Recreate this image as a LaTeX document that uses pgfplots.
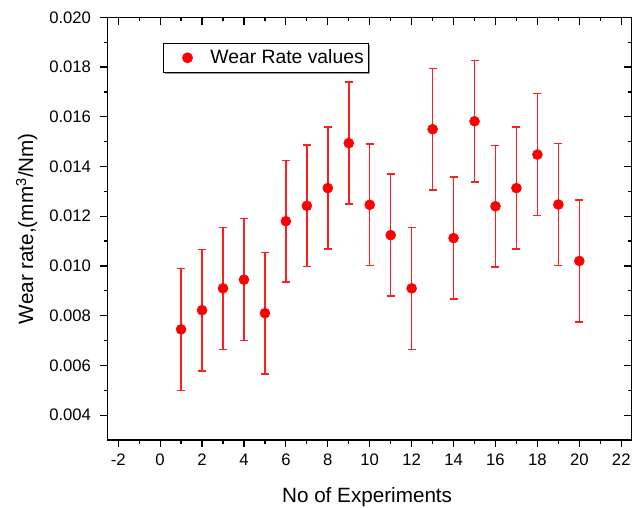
\documentclass[border=0pt]{standalone}
\usepackage{fontspec}
\setmainfont{Liberation Sans}
\usepackage{pgfplots}
\pgfplotsset{compat=1.18}
\usetikzlibrary{shadows}
\definecolor{barred}{RGB}{255,30,30}
\pgfplotstableread{
x y e
1 0.00745 0.00245
2 0.00822 0.00245
3 0.00910 0.00245
4 0.00945 0.00245
5 0.00810 0.00245
6 0.01180 0.00245
7 0.01242 0.00245
8 0.01313 0.00245
9 0.01494 0.00245
10 0.01246 0.00245
11 0.01124 0.00245
12 0.00910 0.00245
13 0.01550 0.00245
14 0.01112 0.00245
15 0.01582 0.00245
16 0.01240 0.00245
17 0.01313 0.00245
18 0.01448 0.00245
19 0.01247 0.00245
20 0.01020 0.00245
}\wear
\begin{document}
\begin{tikzpicture}
\useasboundingbox (-80.8pt,-50.25pt) rectangle (400.7pt,330pt);
\pgfplotsset{
  common/.style={
    at={(0pt,0pt)}, anchor=south west,
    scale only axis, width=393pt, height=317pt,
    xmin=-2.5, xmax=22.5, ymin=0.003, ymax=0.020,
    xtick={-2,0,2,4,6,8,10,12,14,16,18,20,22},
    ytick={0.004,0.006,0.008,0.010,0.012,0.014,0.016,0.018,0.020},
    minor x tick num=1, minor y tick num=1,
    major tick length=5.5pt, minor tick length=3pt,
    axis line style={black, line width=0.9pt},
    tick style={black, line width=0.9pt},
    scaled y ticks=false,
  }
}
\begin{axis}[
  common,
  xtick pos=left, ytick pos=left, tick align=outside,
  /pgf/number format/assume math mode=true,
  yticklabel style={/pgf/number format/.cd, fixed, fixed zerofill, precision=3, /tikz/.cd, font=\fontsize{12.5}{15}\selectfont, xshift=-3.5pt},
  xticklabel style={font=\fontsize{12.5}{15}\selectfont, yshift=-1.5pt},
  xlabel={No of Experiments},
  ylabel={Wear rate,(mm\textsuperscript{3}/Nm)},
  xlabel style={font=\fontsize{15.5}{18}\selectfont, at={(axis description cs:0.495,0)}, anchor=base, yshift=-47pt},
  ylabel style={font=\fontsize{15.5}{18}\selectfont, at={(axis description cs:-0.1425,0.5)}, anchor=base},
  legend style={at={(axis description cs:0.1056,0.939)}, anchor=north west,
    draw=black, line width=0.6pt, fill=white,
    drop shadow={shadow xshift=1.2pt, shadow yshift=-1.2pt, fill=gray, opacity=0.8},
    font=\fontsize{14.5}{17}\selectfont, inner xsep=14.3pt, inner ysep=2.7pt},
]
\addplot[only marks, mark=*, red, mark size=3.75pt, mark options={fill=red, draw=red},
  error bars/.cd, y dir=both, y explicit,
  error bar style={draw=barred, line width=1.1pt},
  error mark options={rotate=90, draw=barred, mark size=3pt, line width=1.1pt}]
  table[x=x, y=y, y error=e] {\wear};
\addlegendentry{\hspace*{11.4pt}Wear Rate values\hspace*{-12.5pt}}
\end{axis}
\begin{axis}[
  common,
  xtick pos=right, ytick pos=right, tick align=inside,
  xticklabels={}, yticklabels={},
]
\end{axis}
\end{tikzpicture}
\end{document}
